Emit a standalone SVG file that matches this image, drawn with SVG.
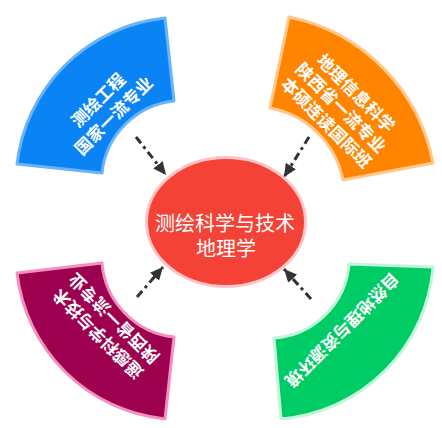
<svg xmlns="http://www.w3.org/2000/svg" width="442" height="428" viewBox="0 0 442 428">
<style>
.t{font-family:"Noto Sans CJK SC","Noto Sans",sans-serif;fill:#fff;text-anchor:middle;dominant-baseline:central}
.s{font-size:17px;font-weight:bold}
.c{font-size:20px}
.arr{fill:none;stroke:#333;stroke-width:3;stroke-dasharray:8 4 3 4;marker-end:url(#ah)}
.sec{stroke-width:3;stroke-linejoin:round}
</style>
<defs>
<marker id="ah" markerUnits="userSpaceOnUse" markerWidth="14" markerHeight="12" refX="13" refY="6" orient="auto">
<path d="M0,0 L13,6 L0,12 Z" fill="#333"/>
</marker>
</defs>
<rect width="442" height="428" fill="#fff"/>
<g id="blue">
<path class="sec" d="M17,164 A166,166 0 0 1 165,18 L174,101 A81,81 0 0 0 102,173 Z" fill="#0a84f5" stroke="#6ab4f5"/>
<g transform="translate(105,107) rotate(-45)">
<text class="t s" y="-11">测绘工程</text>
<text class="t s" y="11">国家一流专业</text>
</g>
</g>
<g id="orange">
<path class="sec" d="M289,17 A184,184 0 0 1 433,163 L343,180 A91,91 0 0 0 270,108 Z" fill="#ff8400" stroke="#ffc78a"/>
<g transform="translate(342,107) rotate(45)">
<text class="t s" y="-21">地理信息科学</text>
<text class="t s" y="0">陕西省一流专业</text>
<text class="t s" y="21">本硕连读国际班</text>
</g>
</g>
<g id="purple">
<path class="sec" d="M165,419 A166,166 0 0 1 17,273 L102,263 A81,81 0 0 0 174,337 Z" fill="#9c004f" stroke="#f490c0"/>
<g transform="translate(105,327) rotate(-135)">
<text class="t s" y="-11">遥感科学与技术</text>
<text class="t s" y="11">陕西省一流专业</text>
</g>
</g>
<g id="green">
<path class="sec" d="M433,267 A166,166 0 0 1 281,419 L274,338 A81,81 0 0 0 349,264 Z" fill="#00cc66" stroke="#c2f5dc"/>
<g transform="translate(343,331) rotate(135)">
<text class="t s" y="0">自然地理与资源环境</text>
</g>
</g>
<g id="center">
<ellipse cx="226" cy="222" rx="79.5" ry="64.5" fill="#f44336" stroke="#ffc4c8" stroke-width="3"/>
<text class="t c"><tspan x="225" y="222">测绘科学与技术</tspan><tspan x="226" y="247">地理学</tspan></text>
</g>
<g id="connectors">
<line class="arr" x1="136" y1="137" x2="166" y2="175"/>
<line class="arr" x1="309" y1="137" x2="284" y2="177"/>
<line class="arr" x1="137" y1="297" x2="163" y2="267"/>
<line class="arr" x1="311" y1="299" x2="284" y2="269"/>
</g>
</svg>
